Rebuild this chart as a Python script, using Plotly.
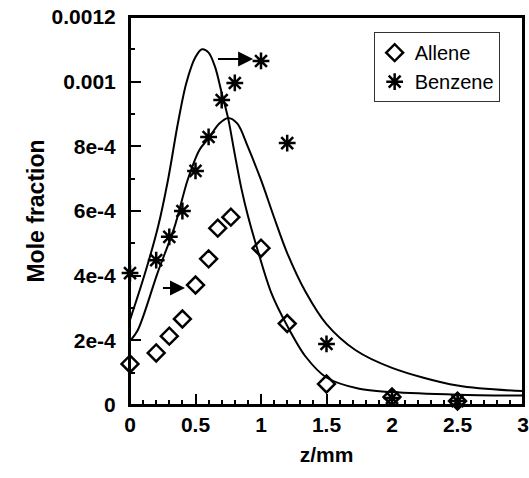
import plotly.graph_objects as go

# Measured data (z in mm, mole fraction)
allene_z = [0.0, 0.2, 0.3, 0.4, 0.5, 0.6, 0.67, 0.77, 1.0, 1.2, 1.5, 2.0, 2.5]
allene_y = [1.27e-4, 1.61e-4, 2.13e-4, 2.66e-4, 3.71e-4, 4.52e-4, 5.47e-4, 5.81e-4,
            4.85e-4, 2.52e-4, 6.5e-5, 2.5e-5, 1.2e-5]

benzene_z = [0.0, 0.2, 0.3, 0.4, 0.5, 0.6, 0.7, 0.8, 1.0, 1.2, 1.5, 2.0, 2.5]
benzene_y = [4.08e-4, 4.48e-4, 5.2e-4, 6.0e-4, 7.24e-4, 8.29e-4, 9.43e-4, 9.96e-4,
             1.064e-3, 8.1e-4, 1.89e-4, 2.2e-5, 1.2e-5]

# Model curve 1 (narrow, tall peak)
model1_z = [0.0, 0.115, 0.214, 0.29, 0.366, 0.43, 0.5, 0.55, 0.6, 0.65, 0.7, 0.75, 0.8,
            0.85, 0.9, 0.97, 1.08, 1.2, 1.34, 1.5, 1.75, 2.0, 2.5, 3.0]
model1_y = [2.63e-4, 4.08e-4, 5.51e-4, 6.96e-4, 8.72e-4, 9.96e-4, 1.076e-3, 1.10e-3,
            1.09e-3, 1.045e-3, 9.65e-4, 8.85e-4, 7.75e-4, 6.7e-4, 5.85e-4, 4.85e-4,
            3.45e-4, 2.45e-4, 1.5e-4, 8.5e-5, 5.0e-5, 4.0e-5, 3.2e-5, 2.9e-5]

# Model curve 2 (wide, lower peak)
model2_z = [0.0, 0.06, 0.21, 0.34, 0.44, 0.53, 0.6, 0.68, 0.75, 0.82, 0.9, 1.0, 1.1,
            1.2, 1.34, 1.5, 1.72, 2.0, 2.5, 3.0]
model2_y = [1.98e-4, 2.32e-4, 4.08e-4, 5.51e-4, 6.96e-4, 7.89e-4, 8.25e-4, 8.7e-4,
            8.88e-4, 8.7e-4, 7.98e-4, 6.96e-4, 5.8e-4, 4.7e-4, 3.5e-4, 2.5e-4,
            1.7e-4, 1.15e-4, 6.0e-5, 4.3e-5]

x_ticks = [0, 0.5, 1, 1.5, 2, 2.5, 3]
x_ticktext = ["0", "0.5", "1", "1.5", "2", "2.5", "3"]
y_ticks = [0, 2e-4, 4e-4, 6e-4, 8e-4, 1e-3, 1.2e-3]
y_ticktext = ["0", "2e-4", "4e-4", "6e-4", "8e-4", "0.001", "0.0012"]

FONT = "Liberation Sans, Arial, sans-serif"

fig = go.Figure()
for mz, my in ((model1_z, model1_y), (model2_z, model2_y)):
    fig.add_trace(go.Scatter(x=mz, y=my, mode="lines",
                             line=dict(color="black", width=2, shape="spline", smoothing=0.9),
                             showlegend=False, hoverinfo="skip"))
fig.add_trace(go.Scatter(x=allene_z, y=allene_y, mode="markers", name="Allene", cliponaxis=False,
                         marker=dict(symbol="diamond-open", size=13, color="black", line=dict(width=2.5, color="black"))))
fig.add_trace(go.Scatter(x=benzene_z, y=benzene_y, mode="markers", name="Benzene", cliponaxis=False,
                         marker=dict(symbol="asterisk-open", size=14, color="black", line=dict(width=2.5, color="black"))))

# arrows
fig.add_annotation(x=0.94, y=1.07e-3, ax=0.66, ay=1.07e-3, xref="x", yref="y", axref="x", ayref="y",
                   showarrow=True, arrowhead=2, arrowsize=1.5, arrowwidth=2, arrowcolor="black", text="")
fig.add_annotation(x=0.42, y=3.62e-4, ax=0.24, ay=3.62e-4, xref="x", yref="y", axref="x", ayref="y",
                   showarrow=True, arrowhead=2, arrowsize=1.5, arrowwidth=2, arrowcolor="black", text="")

# plot frame
fig.add_shape(type="rect", xref="paper", yref="paper", x0=0, y0=0, x1=1, y1=1,
              line=dict(color="black", width=2), layer="above")

axis_common = dict(showline=True, linecolor="black", linewidth=2, mirror=True, ticks="inside",
                   tickcolor="black", tickwidth=2, ticklen=11, showgrid=False, zeroline=False,
                   automargin=False, ticklabeloverflow="allow",
                   tickfont=dict(family=FONT, size=21, color="black", weight="bold"))

fig.update_xaxes(range=[0, 3], tickvals=x_ticks, ticktext=x_ticktext,
                 minor=dict(dtick=0.1, ticks="inside", ticklen=5, tickwidth=2, tickcolor="black"),
                 title=dict(text="z/mm", font=dict(family=FONT, size=21, color="black", weight="bold"), standoff=12),
                 **axis_common)
fig.update_yaxes(range=[0, 1.2e-3], tickvals=y_ticks, ticktext=y_ticktext,
                 ticklabelstandoff=8,
                 minor=dict(dtick=1e-4, ticks="inside", ticklen=5, tickwidth=2, tickcolor="black"),
                 title=dict(text="Mole fraction", font=dict(family=FONT, size=23, color="black", weight="bold"), standoff=1),
                 **axis_common)

fig.update_layout(
    width=529, height=478,
    margin=dict(l=130, r=6, t=17, b=73),
    plot_bgcolor="white", paper_bgcolor="white",
    legend=dict(x=0.62, y=0.961, xanchor="left", yanchor="top", bgcolor="white",
                bordercolor="#333333", borderwidth=1,
                font=dict(family=FONT, size=20, color="black")),
)

# remove the browser's default page margin so the figure fills the window exactly
fig.write_html("out.html", config={"displayModeBar": False},
               post_script="document.body.style.margin='0px';document.body.style.overflow='hidden';")
